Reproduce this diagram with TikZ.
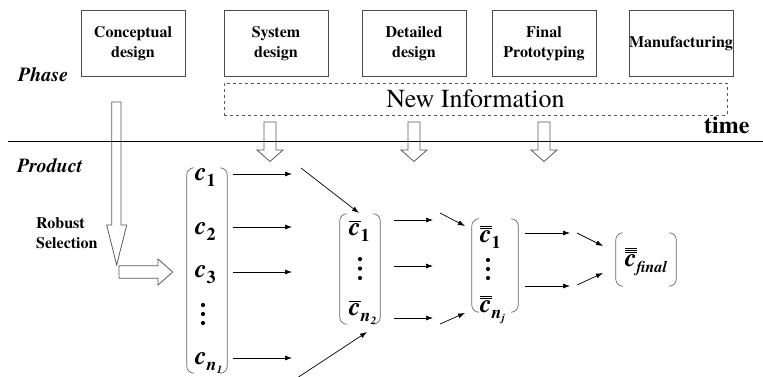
\documentclass[tikz,border=0pt]{standalone}
\usepackage{fontspec}
\setmainfont{texgyretermes}[Extension=.otf, UprightFont=*-regular, BoldFont=*-bold,
  ItalicFont=*-italic, BoldItalicFont=*-bolditalic]
\usetikzlibrary{arrows.meta}

% matrix entries: bold italic c with lowered subscripts
\newcommand\cbase{{\fontsize{26}{26}\selectfont\bfseries\itshape c}}
\newcommand\csub[1]{\raisebox{-6pt}{\fontsize{18}{18}\selectfont\bfseries #1}}
\newcommand\nsub[1]{\raisebox{-6pt}{\fontsize{18}{18}\selectfont\bfseries\itshape n\raisebox{-3.5pt}{\fontsize{11}{11}\selectfont #1}}}
\newcommand\cone{{\fontsize{26}{26}\selectfont$\overline{\hbox{\bfseries\itshape c}}$}}
\newcommand\ctwo{{\fontsize{26}{26}\selectfont$\overline{\overline{\hbox{\bfseries\itshape c}}}$}}
\newcommand\cthree{{\fontsize{26}{26}\selectfont$\overline{\overline{\overline{\hbox{\bfseries\itshape c}}}}$}}

\tikzset{
  phasebox/.style={draw=black!70, line width=0.8pt, minimum width=104pt, minimum height=65.5pt,
    inner sep=0pt, align=center, font=\fontsize{16}{20}\selectfont\bfseries},
  infobox/.style={draw=black!65, dashed, line width=0.6pt, minimum width=503pt, minimum height=32pt,
    inner sep=0pt, font=\fontsize{26}{26}\selectfont},
  sidelabel/.style={anchor=base west, inner sep=0pt, font=\fontsize{20}{20}\selectfont\bfseries\itshape},
  entry/.style={anchor=base west, inner sep=0pt},
  brace/.style={draw=none, inner sep=0pt},
  paren/.style={draw=black!60, line width=0.7pt, rounded corners=7pt},
  flow/.style={line width=0.7pt, -{Latex[length=7pt,width=5pt]}},
  blockarrow/.style={draw=black!65, line width=0.8pt},
  dropblock/.pic={\draw[blockarrow] (-6,0) -- (6,0) -- (6,28) -- (13,28) -- (0,39.5) -- (-13,28) -- (-6,28) -- cycle;}
}

\begin{document}
\begin{tikzpicture}[x=1pt, y=-1pt]
\useasboundingbox (0,0) rectangle (763,376);

% development phases
\node[phasebox] (cd) at (133,43.25) {Conceptual\\design};
\node[phasebox] (sd) at (276,43.25) {System\\design};
\node[phasebox] (dd) at (414,43.25) {Detailed\\design};
\node[phasebox] (fp) at (544,43.25) {Final\\Prototyping};
\node[phasebox] (mf) at (681,43.25) {Manufacturing};
\node[infobox] (ni) at (475.5,99) {New Information};

\node[sidelabel] (phase) at (18,81) {Phase};
\node[sidelabel] (product) at (17,172) {Product};
\node[anchor=base west, inner sep=0pt, font=\fontsize{24}{24}\selectfont\bfseries] (time) at (704,133) {time};
\node[anchor=base west, inner sep=0pt, align=left, font=\fontsize{16}{20}\selectfont\bfseries] (rs) at (36,248) {Robust\\Selection};

% robust selection: long drop then turn right
\draw[blockarrow] (111.7,102) -- (121,102) -- (121,225) -- (126.7,225) -- (116.7,265)
  -- (106.7,225) -- (111.7,225) -- cycle;
\draw[blockarrow] (119,265.7) -- (158,265.7) -- (158,259) -- (172.7,272) -- (158,285)
  -- (158,278.3) -- (119,278.3) -- cycle;

% time axis
\coordinate (t0) at (8,141.5);
\coordinate (t1) at (763,141.5);
\draw[line width=1.6pt] (t0) -- (t1);

% new information fed into the product stages
\pic at (270,122) {dropblock};
\pic at (414,122) {dropblock};
\pic at (544,122) {dropblock};

% candidate sets
\node[brace, minimum width=40pt, minimum height=205pt] (M1) at (207,270.5) {};
\node[brace, minimum width=40pt, minimum height=110pt] (M2) at (360,269) {};
\node[brace, minimum width=46pt, minimum height=93pt] (M3) at (495,265.5) {};
\node[brace, minimum width=60pt, minimum height=53pt] (M4) at (646,259.5) {};
\foreach \m in {M1,M2,M3,M4}{
  \draw[paren] ([xshift=7pt]\m.north west) -- (\m.north west) -- (\m.south west) -- ([xshift=7pt]\m.south west);
  \draw[paren] ([xshift=-7pt]\m.north east) -- (\m.north east) -- (\m.south east) -- ([xshift=-7pt]\m.south east);
}

\node[entry] (a1) at (195,180) {\cbase\csub{1}};
\node[entry] (a2) at (195,234) {\cbase\csub{2}};
\node[entry] (a3) at (195,277) {\cbase\csub{3}};
\node[entry] (an) at (195,364) {\cbase\nsub{1}};
\foreach \y in {305,314,323} \fill (203,\y) circle (2.1pt);

\node[entry] (b1) at (349,235) {\cone\csub{1}};
\node[entry] (bn) at (349,315) {\cone\nsub{2}};
\foreach \y in {259,268.5,278} \fill (360,\y) circle (2.1pt);

\node[entry] (d1) at (480,242) {\ctwo\csub{1}};
\node[entry] (dn) at (480,312) {\ctwo\nsub{\itshape j}};
\foreach \y in {260,269,278} \fill (488,\y) circle (2.1pt);

\node[entry] (fin) at (625,266) {\cthree\raisebox{-6pt}{\fontsize{16}{16}\selectfont\bfseries\itshape final}};

% flows between stages
\foreach \y [count=\i] in {174,227,272,358}{
  \coordinate (s1\i) at (233,\y);
  \coordinate (e1\i) at (292,\y);
  \draw[flow] (s1\i) -- (e1\i);
}
\coordinate (p1) at (301,168);
\coordinate (p2) at (297,378);
\draw[flow] (p1) -- (359,213);
\draw[flow] (p2) -- (367,332);

\foreach \y [count=\i] in {220,266,318}{
  \coordinate (s2\i) at (394,\y);
  \coordinate (e2\i) at (433,\y);
  \draw[flow] (s2\i) -- (e2\i);
}
\coordinate (q1) at (440,213);
\coordinate (q2) at (440,324);
\draw[flow] (q1) -- (465,226);
\draw[flow] (q2) -- (465,313);

\foreach \y [count=\i] in {233,286}{
  \coordinate (s3\i) at (525,\y);
  \coordinate (e3\i) at (570,\y);
  \draw[flow] (s3\i) -- (e3\i);
}
\coordinate (r1) at (577,233);
\coordinate (r2) at (577,285);
\draw[flow] (r1) -- (603,246);
\draw[flow] (r2) -- (603,273);
\end{tikzpicture}
\end{document}
